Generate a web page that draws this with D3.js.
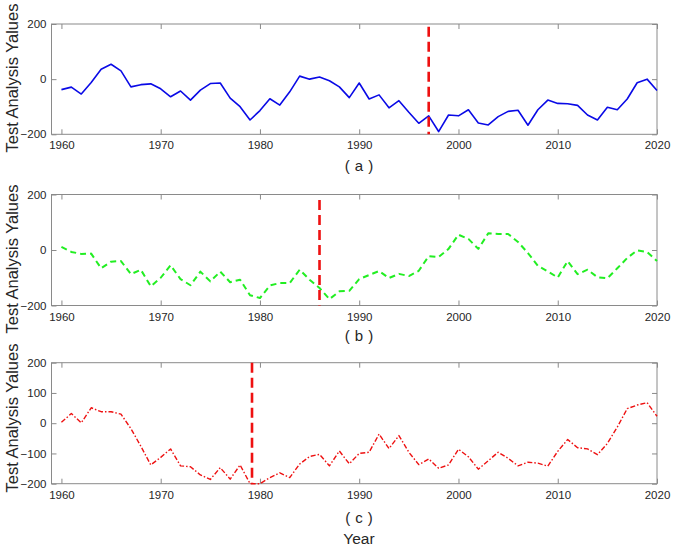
<!DOCTYPE html>
<html><head><meta charset="utf-8">
<script src="https://cdn.jsdelivr.net/npm/d3@7"></script>
<style>body{margin:0;background:#fff;} svg{display:block;}</style>
</head><body>
<svg id="chart" width="673" height="547"></svg>
<script>
const years = d3.range(1960, 2021);
const seriesA = [-38,-29,-54,-12,36,54,30,-28,-20,-17,-35,-64,-43,-76,-40,-16,-14,-69,-100,-148,-114,-71,-94,-46,11,0,8,-6,-28,-67,-14,-72,-57,-104,-78,-120,-160,-133,-190,-130,-133,-111,-159,-166,-136,-117,-113,-167,-111,-76,-88,-89,-95,-130,-148,-102,-111,-72,-13,0,-41];
const seriesB = [11,-7,-14,-13,-66,-42,-40,-87,-71,-131,-100,-55,-105,-127,-78,-113,-78,-116,-107,-163,-173,-128,-119,-119,-71,-107,-137,-177,-149,-147,-105,-90,-76,-101,-86,-94,-75,-22,-25,4,55,40,4,60,58,58,29,-11,-57,-77,-99,-40,-87,-71,-98,-102,-66,-29,-1,-7,-40];
const seriesC = [3,32,1,51,38,38,30,-18,-76,-138,-113,-85,-141,-144,-171,-186,-147,-185,-138,-200,-200,-180,-164,-180,-135,-110,-103,-141,-92,-134,-100,-96,-36,-84,-41,-96,-137,-118,-149,-138,-86,-111,-152,-124,-96,-116,-141,-129,-132,-142,-93,-54,-81,-85,-104,-67,-13,48,60,68,23];
const changeYears = [1997, 1986, 1979.2];
const changeTops = [190, 180, 200];
const panelLetters = ["a", "b", "c"];
const xTicks = [1960, 1970, 1980, 1990, 2000, 2010, 2020];
const yTicksAB = [-200, 0, 200];
const yTicksC = [-200, -100, 0, 100, 200];
const yLabel = "Test Analysis Yalues";
const xLabel = "Year";

const svg = d3.select("#chart");
const font = "'Liberation Sans', Arial, sans-serif";
const axisColor = "#8a8a8a";
const textColor = "#262626";

const panels = [
  {data: seriesA, top: 24, bottom: 134.3, yTicks: yTicksAB, color: "#0a0ae6", dash: null, width: 1.6, ylabY: 78, labY: 165},
  {data: seriesB, top: 194.5, bottom: 305.5, yTicks: yTicksAB, color: "#22ee22", dash: "6,4", width: 2, ylabY: 259, labY: 335},
  {data: seriesC, top: 362.7, bottom: 483.7, yTicks: yTicksC, color: "#ee1111", dash: "5,2,1.5,2", width: 1.4, ylabY: 418, labY: 517}
];

const x = d3.scaleLinear().domain([1959, 2020]).range([51.5, 657]);

panels.forEach((p, i) => {
  const y = d3.scaleLinear().domain([-200, 200]).range([p.bottom, p.top]);
  const g = svg.append("g");

  g.append("rect").attr("x", x.range()[0]).attr("y", p.top)
    .attr("width", x.range()[1] - x.range()[0]).attr("height", p.bottom - p.top)
    .attr("fill", "none").attr("stroke", axisColor).attr("stroke-width", 1);

  const xAxis = d3.axisBottom(x).tickValues(xTicks).tickFormat(d3.format("d")).tickSize(-5).tickPadding(7);
  const gx = g.append("g").attr("transform", `translate(0,${p.bottom})`).call(xAxis);
  const xTop = d3.axisTop(x).tickValues(xTicks).tickFormat("").tickSize(-5);
  const gxt = g.append("g").attr("transform", `translate(0,${p.top})`).call(xTop);
  const yAxis = d3.axisLeft(y).tickValues(p.yTicks).tickFormat(d3.format("d")).tickSize(-5).tickPadding(5);
  const gy = g.append("g").attr("transform", `translate(${x.range()[0]},0)`).call(yAxis);
  const yRight = d3.axisRight(y).tickValues(p.yTicks).tickFormat("").tickSize(-5);
  const gyr = g.append("g").attr("transform", `translate(${x.range()[1]},0)`).call(yRight);
  [gx, gxt, gy, gyr].forEach(a => {
    a.select(".domain").remove();
    a.selectAll(".tick line").attr("stroke", axisColor);
    a.selectAll("text").attr("fill", textColor).style("font-family", font).style("font-size", "11.5px");
  });
  gx.selectAll("text").attr("dy", "0.71em");

  const line = d3.line().x((d, j) => x(years[j])).y(d => y(d));
  const path = g.append("path").datum(p.data).attr("d", line)
    .attr("fill", "none").attr("stroke", p.color).attr("stroke-width", p.width)
    .attr("stroke-linejoin", "round");
  if (p.dash) path.attr("stroke-dasharray", p.dash);

  g.append("line")
    .attr("x1", x(changeYears[i])).attr("x2", x(changeYears[i]))
    .attr("y1", y(changeTops[i])).attr("y2", y(-200))
    .attr("stroke", "#ee1111").attr("stroke-width", 2.6).attr("stroke-dasharray", "10,5");

  g.append("text").attr("transform", `translate(12,${p.ylabY}) rotate(-90)`)
    .attr("text-anchor", "middle").attr("dominant-baseline", "central")
    .style("font-family", font).style("font-size", "16.5px").attr("fill", textColor)
    .text(yLabel);

  // panel label styled like full-width parentheses: wide gaps around the letter
  const t = g.append("text").attr("x", 359).attr("y", p.labY)
    .attr("text-anchor", "middle").attr("dominant-baseline", "central")
    .style("font-family", font).style("font-size", "15px").attr("fill", textColor);
  t.append("tspan").text("(");
  t.append("tspan").attr("dx", 5).text(panelLetters[i]);
  t.append("tspan").attr("dx", 5).text(")");
});

svg.append("text").attr("x", 359).attr("y", 543.5)
  .attr("text-anchor", "middle")
  .style("font-family", font).style("font-size", "15.5px").attr("fill", textColor)
  .text(xLabel);
</script>
</body></html>
